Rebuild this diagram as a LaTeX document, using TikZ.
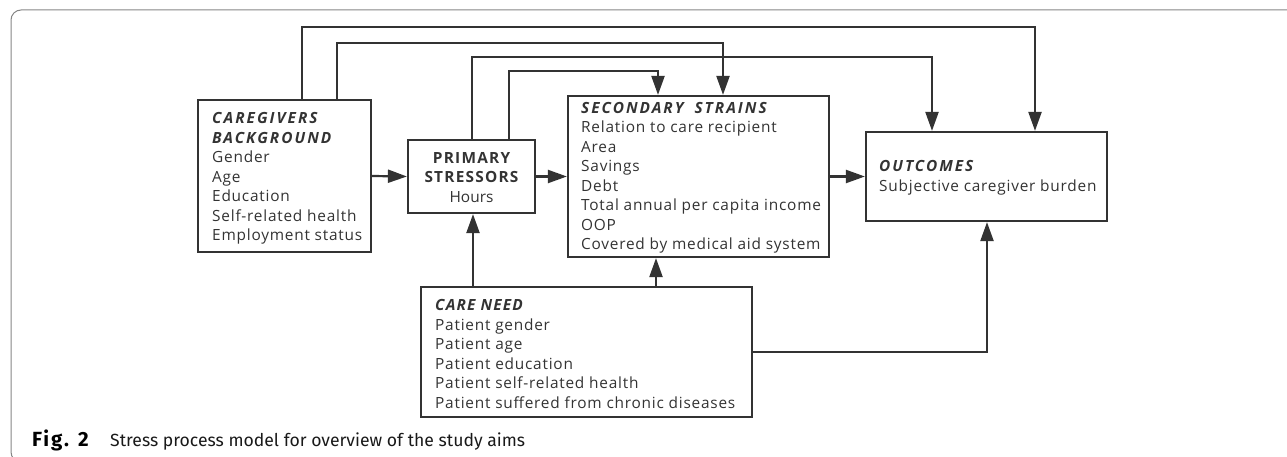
\documentclass[tikz,border=0pt]{standalone}
\usepackage{fontspec}
\setmainfont{Open Sans}
\newfontfamily\bodyfont{Open Sans}[LetterSpace=5]
\newfontfamily\headfont{Open Sans}[LetterSpace=13]
\newfontfamily\needfont{Open Sans}[LetterSpace=7.5]
\newfontfamily\psfont{Open Sans}[LetterSpace=8]
\newfontfamily\plainfont{Open Sans}
\newfontfamily\capfont{Fira Sans}
\newfontfamily\capboldfont{Fira Sans}[LetterSpace=9]
\usetikzlibrary{arrows.meta}
\definecolor{ink}{HTML}{333333}
\definecolor{framegray}{HTML}{858585}
\begin{document}
\begin{tikzpicture}[x=1pt,y=-1pt,
  box/.style={draw=ink, line width=2.2pt, inner sep=0pt},
  txt/.style={inner sep=0pt, text=ink, align=left, font=\bodyfont\fontsize{15.4}{19.5}\selectfont},
  arr/.style={draw=ink, line width=2.2pt, -{Triangle[length=19pt,width=13pt]}}
]
\useasboundingbox (0,0) rectangle (1287,457);
% frame
\draw[framegray, line width=1pt, rounded corners=10pt] (1300,10) -- (11,10) -- (11,462) -- (40,462);

% boxes
\node[box, minimum width=173pt, minimum height=152pt] (cb) at (284.5,176) {};
\node[box, minimum width=127pt, minimum height=73pt] (ps) at (471.5,176.5) {};
\node[box, minimum width=261pt, minimum height=161pt] (ss) at (698.5,176.5) {};
\node[box, minimum width=241pt, minimum height=89pt] (oc) at (986.5,176.5) {};
\node[box, minimum width=331pt, minimum height=130pt] (cn) at (586.5,352) {};

% texts
\node[txt, anchor=west] (cbt) at (212,178.5) {{\headfont\bfseries\itshape CAREGIVERS}\\{\headfont\bfseries\itshape BACKGROUND}\\Gender\\Age\\Education\\Self-related health\\Employment status};
\node[txt, align=center] (pst) at (471.5,177.5) {{\psfont\bfseries PRIMARY}\\{\psfont\bfseries STRESSORS}\\{\plainfont Hours}};
\node[txt, anchor=west] (sst) at (581,178) {{\headfont\bfseries\itshape SECONDARY\hspace{5pt} STRAINS}\\Relation to care recipient\\Area\\Savings\\Debt\\Total annual per capita income\\OOP\\Covered by medical aid system};
\node[txt, anchor=west] (oct) at (879,178) {{\headfont\bfseries\itshape OUTCOMES}\\Subjective caregiver burden};
\node[txt, anchor=west] (cnt) at (435,354) {{\needfont\bfseries\itshape CARE NEED}\\Patient gender\\Patient age\\Patient education\\Patient self-related health\\Patient suffered from chronic diseases};

% caption
\node[anchor=base west, inner sep=0pt, text=black] (capfig) at (32,446) {\capboldfont\bfseries\fontsize{20.5}{24}\selectfont Fig. 2};
\node[anchor=base west, inner sep=0pt, text=black!90] (captext) at (110,446) {\capfont\fontsize{17.6}{21}\selectfont Stress process model for overview of the study aims};

% connectors
\draw[arr] (cb.east) -- (ps.west);
\draw[arr] (ps.east) -- (ss.west);
\draw[arr] (ss.east) -- (oc.west);
\draw[arr] (302,0 |- cb.north) -- (302,27) -| (1035,0 |- oc.north);
\draw[arr] (337,0 |- cb.north) -- (337,43) -| (723,0 |- ss.north);
\draw[arr] (472,0 |- ps.north) -- (472,57) -| (932,0 |- oc.north);
\draw[arr] (509,0 |- ps.north) -- (509,71) -| (658,0 |- ss.north);
\draw[arr] (473,0 |- cn.north) -- (473,0 |- ps.south);
\draw[arr] (656,0 |- cn.north) -- (656,0 |- ss.south);
\draw[arr] (cn.east) -| (987,0 |- oc.south);
\end{tikzpicture}
\end{document}
